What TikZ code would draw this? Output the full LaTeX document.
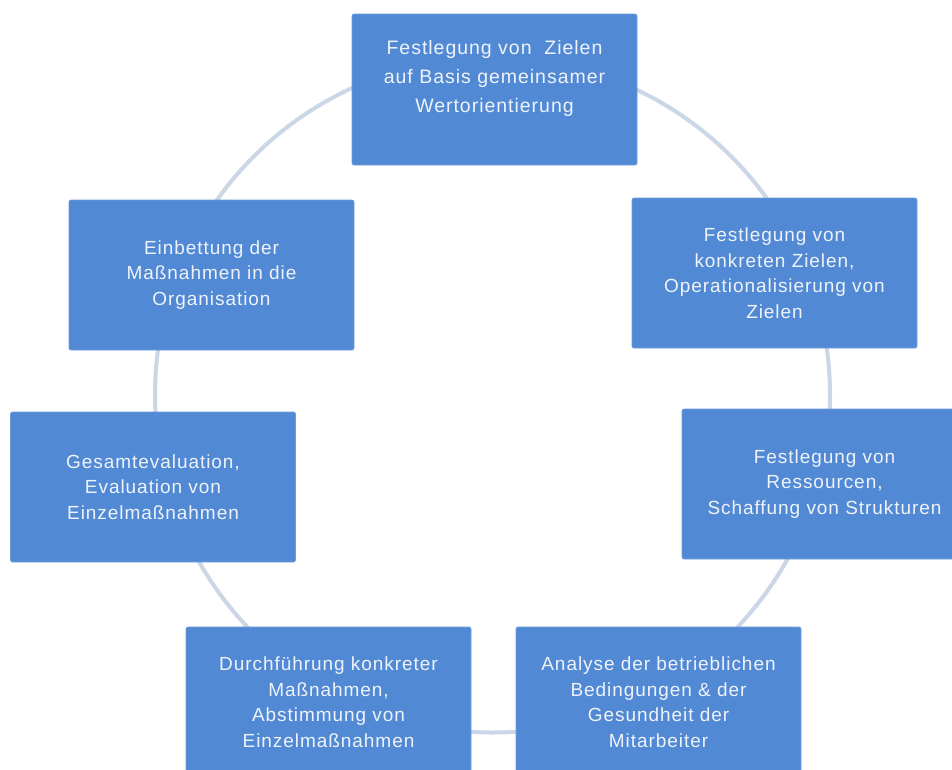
\documentclass[tikz,border=0pt]{standalone}
\usepackage{fontspec}
\setmainfont{Liberation Sans}[LetterSpace=5]
\definecolor{boxblue}{HTML}{5289D4}
\definecolor{ringcol}{HTML}{CBD6E6}
\definecolor{txtcol}{HTML}{EEF3FA}
\begin{document}
\begin{tikzpicture}[x=1pt,y=-1pt,
  box/.style={fill=boxblue, draw=boxblue!85!white, line width=0.6pt, rounded corners=2pt,
    minimum width=285pt, minimum height=150pt, inner sep=0pt, align=center,
    text=txtcol, font=\fontsize{19}{25.5}\selectfont},
  ring/.style={draw=ringcol, line width=4pt}]
\useasboundingbox (0,0) rectangle (952,769);
\clip (0,0) rectangle (952,769);
\fill[white] (0,0) rectangle (952,769);
\draw[ring] (492.5,395) circle[radius=337.5pt];
\node[box, minimum height=151pt] (n1) at (494.5,89.5) {};
\node[align=center, text=txtcol, font=\fontsize{19.5}{29}\selectfont, inner sep=0pt]
  (t1) at ([yshift=11pt]n1.center) {Festlegung von \ Zielen\\auf Basis gemeinsamer\\Wertorientierung};
\node[box] (n2) at (774.5,273) {Festlegung von\\konkreten Zielen,\\Operationalisierung von\\Zielen};
\node[box] (n3) at (824.5,484) {Festlegung von\\Ressourcen,\\Schaffung von Strukturen};
\node[box] (n4) at (658.5,702) {Analyse der betrieblichen\\Bedingungen \& der\\Gesundheit der\\Mitarbeiter};
\node[box] (n5) at (328.5,702) {Durchführung konkreter\\Maßnahmen,\\Abstimmung von\\Einzelmaßnahmen};
\node[box] (n6) at (153,487) {Gesamtevaluation,\\Evaluation von\\Einzelmaßnahmen};
\node[box] (n7) at (211.5,275) {Einbettung der\\Maßnahmen in die\\Organisation};
\end{tikzpicture}
\end{document}
